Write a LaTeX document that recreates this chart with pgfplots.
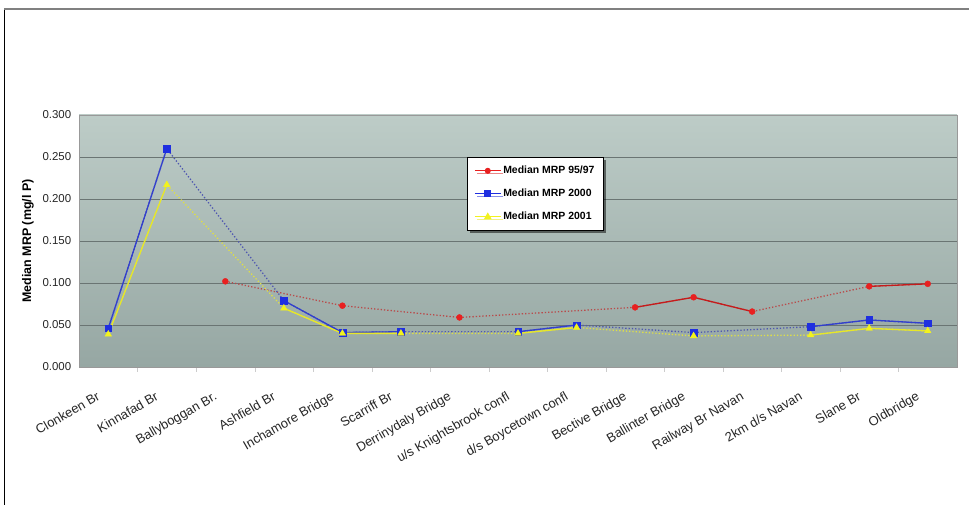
\documentclass[border=0pt]{standalone}
\usepackage{pgfplots}
\pgfplotsset{compat=1.18}
\usepackage{fontspec}
\setmainfont{Liberation Sans}
\usetikzlibrary{shadows}
\definecolor{sred}{HTML}{E82020}
\definecolor{sblue}{HTML}{1F2FE0}
\definecolor{syel}{HTML}{F2F21E}
\definecolor{gridc}{HTML}{6A7573}
\definecolor{bgtop}{HTML}{BDCCC7}
\definecolor{bgbot}{HTML}{96A7A3}
\begin{document}
\begin{tikzpicture}
\path[use as bounding box] (0,0) rectangle (969bp,505bp);
\draw[black, line width=1bp] (4bp,0) -- (4bp,496bp);
\draw[gray, line width=1.5bp] (4bp,496bp) -- (969bp,496bp);
\begin{axis}[
  at={(79bp,138bp)}, anchor=south west,
  scale only axis, width=878bp, height=252bp,
  xmin=0, xmax=15, ymin=0, ymax=0.3,
  axis background/.style={top color=bgtop, bottom color=bgbot},
  axis line style={draw=gray!80},
  ytick={0,0.05,...,0.3},
  ymajorgrids, grid style={gridc, line width=0.8bp},
  ytick style={draw=none},
  yticklabel style={/pgf/number format/.cd, fixed, fixed zerofill, precision=3, assume math mode=true},
  ticklabel style={font=\fontsize{11.5}{13}\selectfont, text=black!85},
  xtick={0.5,1.5,...,14.5},
  xticklabels={Clonkeen Br, Kinnafad Br, Ballyboggan Br., Ashfield Br, Inchamore Bridge, Scarriff Br, Derrinydaly Bridge, u/s Knightsbrook confl, d/s Boycetown confl, Bective Bridge, Ballinter Bridge, Railway Br Navan, 2km d/s Navan, Slane Br, Oldbridge},
  xticklabel style={font=\fontsize{13}{15}\selectfont, xshift=-11bp, yshift=-15bp, rotate=30, anchor=north east},
  xtick pos=lower, ytick pos=left,
  x tick style={draw=none},
  minor xtick={1,...,14},
  minor tick length=5bp, tick align=outside,
  minor x tick style={draw=gray!40},
  ylabel={\bfseries Median MRP (mg/l P)},
  ylabel style={font=\fontsize{12.5}{14}\selectfont, at={(ticklabel cs:0.5)}, yshift=2bp},
  unbounded coords=jump,
  legend style={at={(rel axis cs:0.442,0.833)}, anchor=north west, draw=black, fill=white,
    drop shadow={shadow xshift=2.5bp, shadow yshift=-2.5bp, fill=black},
    font=\bfseries\fontsize{10.5}{12}\selectfont, row sep=10bp, inner xsep=7bp, inner ysep=7bp,
    legend cell align=left},
  legend image code/.code={\draw[mark repeat=2,mark phase=2,#1] plot coordinates {(0bp,0bp)(13bp,0bp)(26bp,0bp)};},
]
% dotted connectors (all existing points)
\addplot[forget plot, sred!55!gray, line width=1.3bp, dotted] coordinates {
(2.5,0.102)(4.5,0.073)(6.5,0.059)(9.5,0.071)(10.5,0.083)(11.5,0.066)(13.5,0.096)(14.5,0.099)};
\addplot[forget plot, sblue!50!gray, line width=1.3bp, dotted] coordinates {
(0.5,0.046)(1.5,0.260)(3.5,0.079)(4.5,0.041)(5.5,0.042)(7.5,0.042)(8.5,0.050)(10.5,0.041)(12.5,0.048)(13.5,0.056)(14.5,0.052)};
\addplot[forget plot, syel!80!gray!90!white, line width=1.3bp, dotted] coordinates {
(0.5,0.039)(1.5,0.217)(3.5,0.070)(4.5,0.040)(5.5,0.040)(7.5,0.040)(8.5,0.047)(10.5,0.037)(12.5,0.038)(13.5,0.046)(14.5,0.043)};
% solid segments
\addplot[forget plot, sblue!80!gray, line width=1.3bp] coordinates {
(0.5,0.046)(1.5,0.260)(2.5,nan)(3.5,0.079)(4.5,0.041)(5.5,0.042)(6.5,nan)(7.5,0.042)(8.5,0.050)(9.5,nan)(10.5,0.041)(11.5,nan)(12.5,0.048)(13.5,0.056)(14.5,0.052)};
\addplot[forget plot, syel!90!gray, line width=1.3bp] coordinates {
(0.5,0.039)(1.5,0.217)(2.5,nan)(3.5,0.070)(4.5,0.040)(5.5,0.040)(6.5,nan)(7.5,0.040)(8.5,0.047)(9.5,nan)(10.5,0.037)(11.5,nan)(12.5,0.038)(13.5,0.046)(14.5,0.043)};
\addplot[forget plot, sred!85!black, line width=1.3bp] coordinates {
(2.5,0.102)(3.5,nan)(4.5,0.073)(5.5,nan)(6.5,0.059)(7.5,nan)(8.5,nan)(9.5,0.071)(10.5,0.083)(11.5,0.066)(12.5,nan)(13.5,0.096)(14.5,0.099)};
% markers
\addplot[forget plot, only marks, mark=square*, mark size=3.3bp, sblue, mark options={draw=sblue}] coordinates {
(0.5,0.046)(1.5,0.260)(3.5,0.079)(4.5,0.041)(5.5,0.042)(7.5,0.042)(8.5,0.050)(10.5,0.041)(12.5,0.048)(13.5,0.056)(14.5,0.052)};
\addplot[forget plot, only marks, mark=triangle*, mark size=3.8bp, syel, mark options={draw=syel}] coordinates {
(0.5,0.039)(1.5,0.217)(3.5,0.070)(4.5,0.040)(5.5,0.040)(7.5,0.040)(8.5,0.047)(10.5,0.037)(12.5,0.038)(13.5,0.046)(14.5,0.043)};
\addplot[forget plot, only marks, mark=*, mark size=3bp, sred, mark options={draw=sred}] coordinates {
(2.5,0.102)(4.5,0.073)(6.5,0.059)(9.5,0.071)(10.5,0.083)(11.5,0.066)(13.5,0.096)(14.5,0.099)};
\addlegendimage{sred, line width=1bp, mark=*, mark size=2.5bp}
\addlegendentry{Median MRP 95/97}
\addlegendimage{sblue, line width=1bp, mark=square*, mark size=3bp}
\addlegendentry{Median MRP 2000}
\addlegendimage{syel, line width=1bp, mark=triangle*, mark size=3.5bp}
\addlegendentry{Median MRP 2001}
\end{axis}
\end{tikzpicture}
\end{document}
